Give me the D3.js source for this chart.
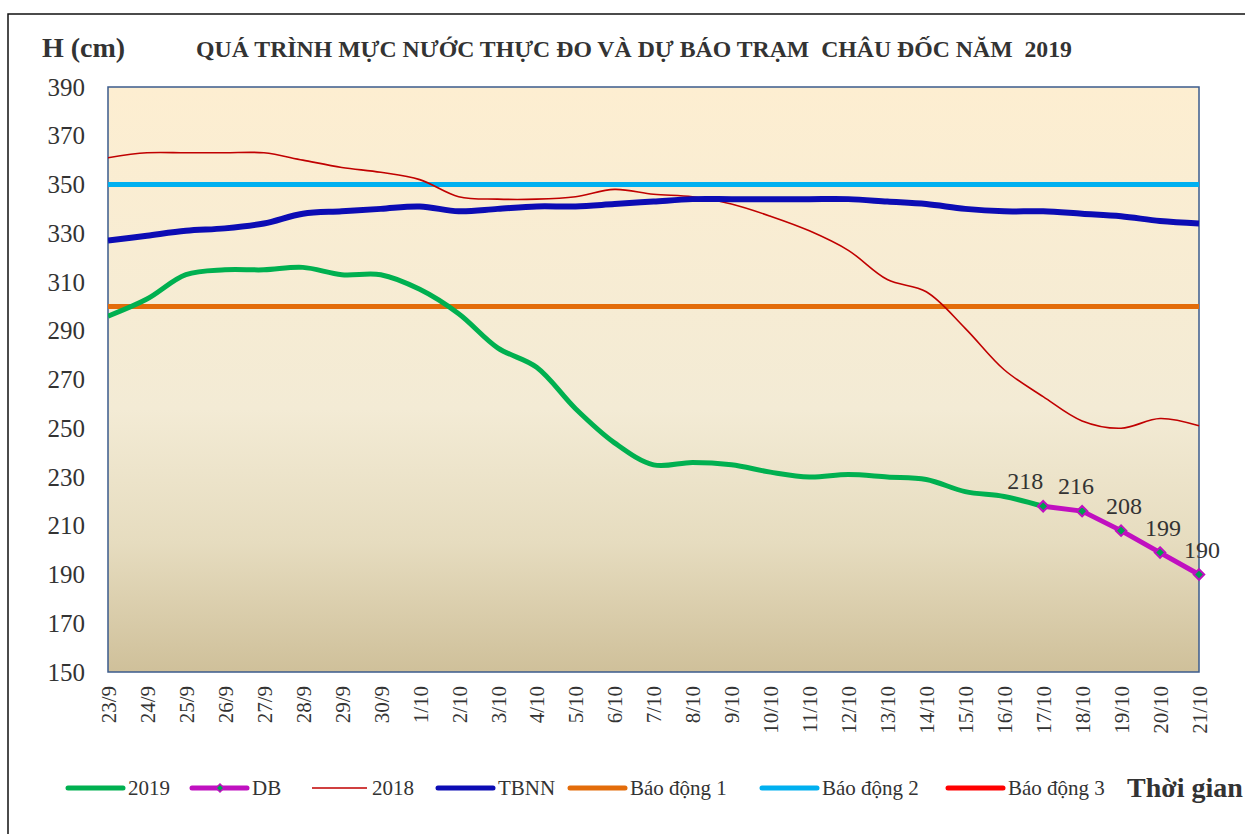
<html>
<head>
<meta charset="utf-8">
<style>
    body { margin: 0; background: #ffffff; }
    text { font-family: "Liberation Serif", "Times New Roman", serif; fill: #333333; }
</style>
</head>
<body>
<svg id="chart" width="1245" height="834"></svg>
<script src="https://cdn.jsdelivr.net/npm/d3@7"></script>
<script>
    // dates on the x axis
    let days = ["23/9","24/9","25/9","26/9","27/9","28/9","29/9","30/9","1/10","2/10","3/10","4/10",
        "5/10","6/10","7/10","8/10","9/10","10/10","11/10","12/10","13/10","14/10","15/10","16/10",
        "17/10","18/10","19/10","20/10","21/10"]

    // measured 2019 (to 17/10)
    let h2019 = [296,303,313,315,315,316,313,313,307,297,283,275,258,244,235,236,235,232,230,231,230,229,224,222,218]
    // forecast 17/10 -> 21/10
    let dbDays = ["17/10","18/10","19/10","20/10","21/10"]
    let hDB = [218,216,208,199,190]
    // 2018
    let h2018 = [361,363,363,363,363,360,357,355,352,345,344,344,345,348,346,345,342,337,331,323,311,306,291,274,263,253,250,254,251]
    // average of many years
    let hTBNN = [327,329,331,332,334,338,339,340,341,339,340,341,341,342,343,344,344,344,344,344,343,342,340,339,339,338,337,335,334]

    let alarms = [
        {name: "Báo động 1", value: 300, color: "#e36c0a"},
        {name: "Báo động 2", value: 350, color: "#00b0f0"},
        {name: "Báo động 3", value: 400, color: "#ff0000"}
    ]
    let yTicks = [150,170,190,210,230,250,270,290,310,330,350,370,390]

    let svg = d3.select("#chart")

    let pLeft = 108, pRight = 1199, pTop = 87, pBottom = 672

    let x = d3.scalePoint().domain(days).range([pLeft, pRight])
    let y = d3.scaleLinear().domain([150, 390]).range([pBottom, pTop])

    // outer frame (open on the right)
    svg.append("path")
        .attr("d", "M8,834 L8,14 L1245,14")
        .attr("fill", "none")
        .attr("stroke", "#111")
        .attr("stroke-width", 1.5)

    // plot background
    let grad = svg.append("defs").append("linearGradient")
        .attr("id", "bg").attr("x1", 0).attr("y1", 0).attr("x2", 0).attr("y2", 1)
    grad.append("stop").attr("offset", "0%").attr("stop-color", "#fdeed1")
    grad.append("stop").attr("offset", "55%").attr("stop-color", "#f3ebd5")
    grad.append("stop").attr("offset", "78%").attr("stop-color", "#e6dcbf")
    grad.append("stop").attr("offset", "100%").attr("stop-color", "#cfc09a")

    svg.append("rect")
        .attr("x", pLeft).attr("y", pTop)
        .attr("width", pRight - pLeft).attr("height", pBottom - pTop)
        .attr("fill", "url(#bg)")
        .attr("stroke", "#3b5b8c")
        .attr("stroke-width", 1.5)

    svg.append("clipPath").attr("id", "clip").append("rect")
        .attr("x", pLeft).attr("y", pTop - 3)
        .attr("width", pRight - pLeft + 8).attr("height", pBottom - pTop + 6)

    // y axis
    let yAxis = svg.append("g")
        .attr("transform", "translate(" + (pLeft - 20) + ",0)")
        .call(d3.axisLeft(y).tickValues(yTicks).tickSize(0).tickPadding(3))
    yAxis.select(".domain").remove()
    yAxis.selectAll("text")
        .attr("font-size", 25)
        .attr("fill", "#333")
        .style("font-family", "'Liberation Serif', serif")

    // x axis labels, rotated
    let xAxis = svg.append("g")
        .attr("transform", "translate(0," + (pBottom + 14) + ")")
        .call(d3.axisBottom(x).tickSize(0).tickPadding(0))
    xAxis.select(".domain").remove()
    xAxis.selectAll("text")
        .attr("font-size", 21)
        .attr("fill", "#333")
        .style("font-family", "'Liberation Serif', serif")
        .attr("text-anchor", "end")
        .attr("transform", "rotate(-90)")
        .attr("x", 0)
        .attr("y", 0)
        .attr("dy", "0.35em")

    let plot = svg.append("g").attr("clip-path", "url(#clip)")

    // alarm levels
    plot.selectAll(".alarm")
        .data(alarms.filter(d => d.value <= 390))
        .enter()
        .append("line")
        .attr("x1", pLeft).attr("x2", pRight)
        .attr("y1", d => y(d.value)).attr("y2", d => y(d.value))
        .attr("stroke", d => d.color)
        .attr("stroke-width", 5)

    let line = d3.line()
        .x(d => x(d.day))
        .y(d => y(d.v))
        .curve(d3.curveCatmullRom.alpha(0.5))

    function pts(labels, values) {
        return values.map((v, i) => ({day: labels[i], v: v}))
    }

    plot.append("path")
        .attr("d", line(pts(days, h2018)))
        .attr("fill", "none").attr("stroke", "#c00000").attr("stroke-width", 1.6)

    plot.append("path")
        .attr("d", line(pts(days, hTBNN)))
        .attr("fill", "none").attr("stroke", "#0c0cb4").attr("stroke-width", 6)

    plot.append("path")
        .attr("d", line(pts(days, h2019)))
        .attr("fill", "none").attr("stroke", "#00b050").attr("stroke-width", 5)

    let db = pts(dbDays, hDB)
    plot.append("path")
        .attr("d", d3.line().x(d => x(d.day)).y(d => y(d.v))(db))
        .attr("fill", "none").attr("stroke", "#c010c0").attr("stroke-width", 5)
        .attr("stroke-linejoin", "round")

    let diamond = d3.symbol().type(d3.symbolDiamond2).size(70)
    svg.selectAll(".mk")
        .data(db)
        .enter()
        .append("path")
        .attr("d", diamond)
        .attr("transform", d => "translate(" + x(d.day) + "," + y(d.v) + ")")
        .attr("fill", "#00a050")
        .attr("stroke", "#c010c0")
        .attr("stroke-width", 2)

    svg.selectAll(".lbl")
        .data(db)
        .enter()
        .append("text")
        .attr("x", d => x(d.day))
        .attr("y", d => y(d.v) - 17)
        .attr("text-anchor", (d, i) => i == 0 ? "end" : "middle")
        .attr("dx", (d, i) => i == 0 ? 0 : (i == 1 ? -6 : 3))
        .attr("font-size", 24)
        .attr("fill", "#111")
        .text(d => d.v)

    // titles
    svg.append("text")
        .attr("x", 42).attr("y", 57)
        .attr("font-size", 28).attr("font-weight", "bold")
        .text("H (cm)")

    svg.append("text")
        .attr("x", 196).attr("y", 57)
        .attr("font-size", 23).attr("font-weight", "bold")
        .attr("textLength", 876).attr("lengthAdjust", "spacingAndGlyphs")
        .style("white-space", "pre")
        .text("QUÁ TRÌNH MỰC NƯỚC THỰC ĐO VÀ DỰ BÁO TRẠM  CHÂU ĐỐC NĂM  2019")

    // legend
    let legend = [
        {name: "2019", color: "#00b050", w: 5, x: 68},
        {name: "DB", color: "#c010c0", w: 5, x: 192, marker: true},
        {name: "2018", color: "#c00000", w: 1.6, x: 312},
        {name: "TBNN", color: "#0c0cb4", w: 5, x: 438},
        {name: alarms[0].name, color: alarms[0].color, w: 5, x: 570},
        {name: alarms[1].name, color: alarms[1].color, w: 5, x: 762},
        {name: alarms[2].name, color: alarms[2].color, w: 5, x: 948}
    ]
    let ly = 788
    let lg = svg.selectAll(".leg")
        .data(legend)
        .enter()
        .append("g")
        .attr("transform", d => "translate(" + d.x + "," + ly + ")")
    lg.append("line")
        .attr("x1", 0).attr("x2", 55).attr("y1", 0).attr("y2", 0)
        .attr("stroke", d => d.color).attr("stroke-width", d => d.w)
        .attr("stroke-linecap", d => d.w > 2 ? "round" : "butt")
    lg.filter(d => d.marker).append("path")
        .attr("d", d3.symbol().type(d3.symbolDiamond2).size(40))
        .attr("transform", "translate(28,0)")
        .attr("fill", "#00a050").attr("stroke", "#c010c0").attr("stroke-width", 1.5)
    lg.append("text")
        .attr("x", 60).attr("y", 0).attr("dy", "0.35em")
        .attr("font-size", 21)
        .text(d => d.name)

    svg.append("text")
        .attr("x", 1127).attr("y", 797)
        .attr("font-size", 28).attr("font-weight", "bold")
        .text("Thời gian")
</script>
</body>
</html>
